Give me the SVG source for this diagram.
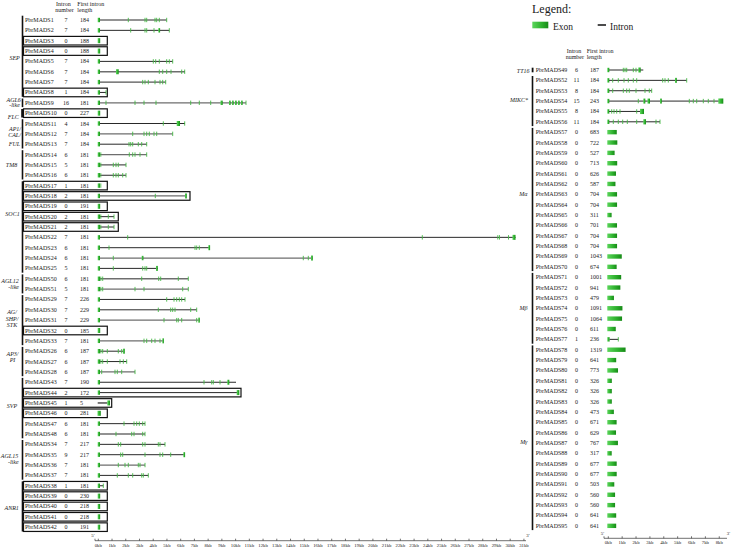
<svg xmlns="http://www.w3.org/2000/svg" width="748" height="548" viewBox="0 0 748 548">
<defs>
<linearGradient id="gx" x1="0" y1="0" x2="1" y2="0">
<stop offset="0" stop-color="#5cd65c"/>
<stop offset="0.6" stop-color="#2db02d"/>
<stop offset="1" stop-color="#178a17"/>
</linearGradient>
<style>
text{font-family:"Liberation Serif","Times New Roman",serif;font-size:6px;fill:#1a1a1a}
.m{text-anchor:middle}
.e{text-anchor:end}
.f{font-style:italic}
.ax{font-size:4.8px;text-anchor:middle}
.in{stroke:#111;stroke-width:0.9;fill:none}
.ig{stroke:#6e6e6e;stroke-width:1.3;fill:none}
.tk{stroke:#45b845;stroke-width:0.9;fill:none}
.ex{fill:url(#gx)}
.bx{fill:none;stroke:#111;stroke-width:1.2}
.br{fill:#111}
.al{stroke:#333;stroke-width:0.7;fill:none}
</style>
</defs>
<rect width="748" height="548" fill="#fff"/>

<g id="legend">
<text x="532" y="12.5" style="font-size:12px">Legend:</text>
<rect class="ex" x="532.3" y="21.7" width="16" height="6.6"/>
<text x="553" y="29.5" style="font-size:9.5px">Exon</text>
<line x1="597.7" y1="25" x2="606" y2="25" stroke="#111" stroke-width="1.5"/>
<text x="610" y="29.5" style="font-size:9.5px">Intron</text>
</g>

<g id="headers">
<text x="56" y="5.8">Intron</text><text x="55.3" y="12">number</text>
<text x="77.3" y="5.8">First intron</text><text x="77.3" y="12">length</text>
<text x="566.7" y="52.8">Intron</text><text x="565.7" y="58.8">number</text>
<text x="586.7" y="52.8">First intron</text><text x="586.7" y="58.8">length</text>
</g>

<g id="families">
<rect class="br" x="21.7" y="15.7" width="1.6" height="81.1"/>
<rect class="br" x="21.7" y="98.5" width="1.6" height="8.6"/>
<rect class="br" x="21.2" y="109" width="2.2" height="8.5"/>
<rect class="br" x="21.7" y="119.2" width="1.6" height="29.3"/>
<rect class="br" x="21.7" y="150.2" width="1.6" height="29.3"/>
<rect class="br" x="21.7" y="181.3" width="1.6" height="91.4"/>
<rect class="br" x="21.7" y="274.4" width="1.6" height="19"/>
<rect class="br" x="21.7" y="295.1" width="1.6" height="50.1"/>
<rect class="br" x="21.7" y="346.9" width="1.6" height="29.3"/>
<rect class="br" x="21.7" y="377.9" width="1.6" height="60.4"/>
<rect class="br" x="21.7" y="440" width="1.6" height="39.7"/>
<rect class="br" x="21.7" y="481.4" width="1.6" height="50.1"/>
<text class="f m" x="14.6" y="60">SEP</text>
<text class="f m" x="13.7" y="101.6">AGL6</text><text class="f m" x="14.5" y="107">-like</text>
<text class="f m" x="13.3" y="118.6">FLC</text>
<text class="f m" x="15" y="130.7">AP1/</text><text class="f m" x="14.5" y="137.2">CAL/</text><text class="f m" x="14.5" y="145.6">FUL</text>
<text class="f m" x="11.5" y="166.6">TM8</text>
<text class="f m" x="12.5" y="215.7">SOC1</text>
<text class="f m" x="10" y="283.3">AGL12</text><text class="f m" x="13.7" y="289.2">-like</text>
<text class="f m" x="12" y="314">AG/</text><text class="f m" x="12" y="320.7">SHP/</text><text class="f m" x="12" y="327.3">STK</text>
<text class="f m" x="12.5" y="356.3">AP3/</text><text class="f m" x="12.5" y="362.4">PI</text>
<text class="f m" x="12" y="408">SVP</text>
<text class="f m" x="9.5" y="458.3">AGL15</text><text class="f m" x="13.3" y="464">-like</text>
<text class="f m" x="11.7" y="510">ANR1</text>
<rect class="br" x="531.7" y="67.7" width="1.8" height="4.6"/>
<rect class="br" x="531.7" y="76" width="1.6" height="50.1"/>
<rect class="br" x="531.7" y="127.9" width="1.6" height="143.2"/>
<rect class="br" x="531.7" y="272.9" width="1.6" height="70.8"/>
<rect class="br" x="531.7" y="345.4" width="1.6" height="184.7"/>
<text class="f e" x="529.5" y="72.8">TT16</text>
<text class="f e" x="528" y="101.5">MIKC*</text>
<text class="f e" x="527.5" y="196">Mα</text>
<text class="f e" x="527.5" y="310">Mβ</text>
<text class="f e" x="527.5" y="444">Mγ</text>
</g>

<g id="genes-left">
<g id="PbrMADS1" transform="translate(0,20)"><text x="25" y="2">PbrMADS1</text><text class="m" x="66" y="2">7</text><text x="80" y="2">184</text>
<path class="in" d="M100 0H166.7"/><rect class="ex" x="97.7" y="-2.2" width="2.3" height="4.4"/>
<path class="tk" d="M128.3-2.2v4.4M145-2.2v4.4M146.7-2.2v4.4M155-2.2v4.4M156.7-2.2v4.4M159.3-2.2v4.4M166.7-2.2v4.4"/></g>
<g id="PbrMADS2" transform="translate(0,30.35)"><text x="25" y="2">PbrMADS2</text><text class="m" x="66" y="2">7</text><text x="80" y="2">184</text>
<path class="in" d="M100 0H169.3"/><rect class="ex" x="97.7" y="-2.2" width="2.3" height="4.4"/>
<path class="tk" d="M130.7-2.2v4.4M145-2.2v4.4M146.7-2.2v4.4M154-2.2v4.4M169.3-2.2v4.4"/><rect class="ex" x="158.3" y="-2.2" width="1.8" height="4.4"/></g>
<g id="PbrMADS3" transform="translate(0,40.7)"><rect class="bx" x="23.5" y="-4.3" width="83.8" height="8.6"/><text x="25" y="2">PbrMADS3</text><text class="m" x="66" y="2">0</text><text x="80" y="2">188</text>
<rect class="ex" x="97.7" y="-2.5" width="2.5" height="5"/></g>
<g id="PbrMADS4" transform="translate(0,51.05)"><rect class="bx" x="23.5" y="-4.3" width="83.8" height="8.6"/><text x="25" y="2">PbrMADS4</text><text class="m" x="66" y="2">0</text><text x="80" y="2">188</text>
<rect class="ex" x="97.7" y="-2.5" width="2.5" height="5"/></g>
<g id="PbrMADS5" transform="translate(0,61.4)"><text x="25" y="2">PbrMADS5</text><text class="m" x="66" y="2">7</text><text x="80" y="2">184</text>
<path class="in" d="M100 0H172.7"/><rect class="ex" x="97.7" y="-2.2" width="2.3" height="4.4"/>
<path class="tk" d="M153.3-2.2v4.4M155.7-2.2v4.4M159.3-2.2v4.4M166.7-2.2v4.4M169.3-2.2v4.4M172.7-2.2v4.4"/></g>
<g id="PbrMADS6" transform="translate(0,71.75)"><text x="25" y="2">PbrMADS6</text><text class="m" x="66" y="2">7</text><text x="80" y="2">184</text>
<path class="ig" d="M100 0H185"/><rect class="ex" x="97.7" y="-2.2" width="2.3" height="4.4"/><rect class="ex" x="116" y="-2.5" width="2.7" height="5"/>
<path class="tk" d="M159.3-2.2v4.4M162.7-2.2v4.4M166.7-2.2v4.4M171-2.2v4.4M181.7-2.2v4.4M184.7-2.2v4.4"/></g>
<g id="PbrMADS7" transform="translate(0,82.1)"><text x="25" y="2">PbrMADS7</text><text class="m" x="66" y="2">7</text><text x="80" y="2">184</text>
<path class="in" d="M100 0H165.7"/><rect class="ex" x="97.7" y="-2.2" width="2.3" height="4.4"/>
<path class="tk" d="M142.7-2.2v4.4M145-2.2v4.4M148.3-2.2v4.4M155-2.2v4.4M160-2.2v4.4M162.7-2.2v4.4M165.7-2.2v4.4"/></g>
<g id="PbrMADS8" transform="translate(0,92.45)"><rect class="bx" x="23.5" y="-4.3" width="83.8" height="8.6"/><text x="25" y="2">PbrMADS8</text><text class="m" x="66" y="2">1</text><text x="80" y="2">184</text>
<path class="in" d="M100 0H106"/><rect class="ex" x="97.7" y="-2.2" width="2.3" height="4.4"/><path class="tk" d="M106-2.2v4.4"/></g>
<g id="PbrMADS9" transform="translate(0,102.8)"><text x="25" y="2">PbrMADS9</text><text class="m" x="66" y="2">16</text><text x="80" y="2">181</text>
<path class="ig" d="M100 0H246"/><rect class="ex" x="97.7" y="-2.2" width="2.3" height="4.4"/>
<path class="tk" d="M106-2.2v4.4M135-2.2v4.4M144-2.2v4.4M156-2.2v4.4M190.7-2.2v4.4M199.3-2.2v4.4M210.7-2.2v4.4M246-2.2v4.4"/>
<rect class="ex" x="220.5" y="-2.2" width="2.2" height="4.4"/><rect class="ex" x="229" y="-2.2" width="1.6" height="4.4"/><rect class="ex" x="232" y="-2.2" width="1.6" height="4.4"/><rect class="ex" x="235" y="-2.2" width="1.6" height="4.4"/><rect class="ex" x="238" y="-2.2" width="1.6" height="4.4"/><rect class="ex" x="241" y="-2.2" width="1.6" height="4.4"/></g>
<g id="PbrMADS10" transform="translate(0,113.15)"><rect class="bx" x="23.5" y="-4.3" width="83.8" height="8.6"/><text x="25" y="2">PbrMADS10</text><text class="m" x="66" y="2">0</text><text x="80" y="2">227</text>
<rect class="ex" x="97.7" y="-2.5" width="2.5" height="5"/></g>
<g id="PbrMADS11" transform="translate(0,123.5)"><text x="25" y="2">PbrMADS11</text><text class="m" x="66" y="2">4</text><text x="80" y="2">184</text>
<path class="in" d="M100 0H185"/><rect class="ex" x="97.7" y="-2.2" width="2.3" height="4.4"/>
<path class="tk" d="M163.3-2.2v4.4M184.7-2.2v4.4"/><rect class="ex" x="176.7" y="-2.5" width="3.3" height="5"/></g>
<g id="PbrMADS12" transform="translate(0,133.85)"><text x="25" y="2">PbrMADS12</text><text class="m" x="66" y="2">7</text><text x="80" y="2">184</text>
<path class="ig" d="M100 0H172.7"/><rect class="ex" x="97.7" y="-2.2" width="2.3" height="4.4"/>
<path class="tk" d="M132.7-2.2v4.4M144-2.2v4.4M146.7-2.2v4.4M149.3-2.2v4.4M154-2.2v4.4M156.7-2.2v4.4M172.7-2.2v4.4"/></g>
<g id="PbrMADS13" transform="translate(0,144.2)"><text x="25" y="2">PbrMADS13</text><text class="m" x="66" y="2">7</text><text x="80" y="2">184</text>
<path class="in" d="M100 0H146.7"/><rect class="ex" x="97.7" y="-2.2" width="2.3" height="4.4"/>
<path class="tk" d="M129-2.2v4.4M130.7-2.2v4.4M132.7-2.2v4.4M138.3-2.2v4.4M141.7-2.2v4.4M146.7-2.2v4.4"/></g>
<g id="PbrMADS14" transform="translate(0,154.55)"><text x="25" y="2">PbrMADS14</text><text class="m" x="66" y="2">6</text><text x="80" y="2">181</text>
<path class="ig" d="M100 0H146.7"/><rect class="ex" x="97.7" y="-2.2" width="2.3" height="4.4"/>
<path class="tk" d="M100.8-2.2v4.4M129.3-2.2v4.4M132.7-2.2v4.4M135-2.2v4.4M140-2.2v4.4M146.7-2.2v4.4"/></g>
<g id="PbrMADS15" transform="translate(0,164.9)"><text x="25" y="2">PbrMADS15</text><text class="m" x="66" y="2">5</text><text x="80" y="2">181</text>
<path class="in" d="M100 0H126"/><rect class="ex" x="97.7" y="-2.2" width="2.3" height="4.4"/>
<path class="tk" d="M100.8-2.2v4.4M113.3-2.2v4.4M116-2.2v4.4M118.3-2.2v4.4M126-2.2v4.4"/></g>
<g id="PbrMADS16" transform="translate(0,175.25)"><text x="25" y="2">PbrMADS16</text><text class="m" x="66" y="2">6</text><text x="80" y="2">181</text>
<path class="in" d="M100 0H126"/><rect class="ex" x="97.7" y="-2.2" width="2.3" height="4.4"/>
<path class="tk" d="M100.8-2.2v4.4M113.3-2.2v4.4M116-2.2v4.4M118.3-2.2v4.4M122.7-2.2v4.4M126-2.2v4.4"/></g>
<g id="PbrMADS17" transform="translate(0,185.6)"><rect class="bx" x="23.5" y="-4.3" width="83.8" height="8.6"/><text x="25" y="2">PbrMADS17</text><text class="m" x="66" y="2">1</text><text x="80" y="2">181</text>
<rect class="ex" x="97.7" y="-2.2" width="2.3" height="4.4"/><path class="tk" d="M100.8-2.2v4.4"/></g>
<g id="PbrMADS18" transform="translate(0,195.95)"><rect class="bx" x="23.5" y="-4.3" width="166.5" height="8.6"/><text x="25" y="2">PbrMADS18</text><text class="m" x="66" y="2">2</text><text x="80" y="2">181</text>
<path class="ig" d="M100 0H185"/><rect class="ex" x="97.7" y="-2.2" width="2.3" height="4.4"/>
<path class="tk" d="M155.3-2.2v4.4"/><rect class="ex" x="185" y="-2.5" width="1.8" height="5"/></g>
<g id="PbrMADS19" transform="translate(0,206.3)"><rect class="bx" x="23.5" y="-4.3" width="83.8" height="8.6"/><text x="25" y="2">PbrMADS19</text><text class="m" x="66" y="2">0</text><text x="80" y="2">191</text>
<rect class="ex" x="97.7" y="-2.5" width="2.5" height="5"/></g>
<g id="PbrMADS20" transform="translate(0,216.65)"><rect class="bx" x="23.5" y="-4.3" width="94.8" height="8.6"/><text x="25" y="2">PbrMADS20</text><text class="m" x="66" y="2">2</text><text x="80" y="2">181</text>
<path class="in" d="M100 0H114"/><rect class="ex" x="97.7" y="-2.2" width="2.3" height="4.4"/>
<path class="tk" d="M100.8-2.2v4.4M108.3-2.2v4.4M114-2.2v4.4"/></g>
<g id="PbrMADS21" transform="translate(0,227)"><rect class="bx" x="23.5" y="-4.3" width="94.8" height="8.6"/><text x="25" y="2">PbrMADS21</text><text class="m" x="66" y="2">2</text><text x="80" y="2">181</text>
<path class="in" d="M100 0H114"/><rect class="ex" x="97.7" y="-2.2" width="2.3" height="4.4"/>
<path class="tk" d="M100.8-2.2v4.4M108.3-2.2v4.4M114-2.2v4.4"/></g>
<g id="PbrMADS22" transform="translate(0,237.35)"><text x="25" y="2">PbrMADS22</text><text class="m" x="66" y="2">7</text><text x="80" y="2">181</text>
<path class="in" d="M100 0H515.5"/><rect class="ex" x="97.7" y="-2.2" width="2.3" height="4.4"/>
<path class="tk" d="M127.7-2.2v4.4M422.3-2.2v4.4M497.8-2.2v4.4M499.5-2.2v4.4M508.5-2.2v4.4"/><rect class="ex" x="512.5" y="-2.5" width="3" height="5"/></g>
<g id="PbrMADS23" transform="translate(0,247.7)"><text x="25" y="2">PbrMADS23</text><text class="m" x="66" y="2">6</text><text x="80" y="2">181</text>
<path class="in" d="M100 0H210"/><rect class="ex" x="97.7" y="-2.2" width="2.3" height="4.4"/>
<path class="tk" d="M109-2.2v4.4M195-2.2v4.4M196.7-2.2v4.4M199.3-2.2v4.4"/><rect class="ex" x="208.3" y="-2.5" width="1.8" height="5"/></g>
<g id="PbrMADS24" transform="translate(0,258.05)"><text x="25" y="2">PbrMADS24</text><text class="m" x="66" y="2">6</text><text x="80" y="2">181</text>
<path class="ig" d="M100 0H312.5"/><rect class="ex" x="97.7" y="-2.2" width="2.3" height="4.4"/>
<path class="tk" d="M113.3-2.2v4.4M303.3-2.2v4.4M308.3-2.2v4.4"/><rect class="ex" x="141.7" y="-2.2" width="1.7" height="4.4"/><rect class="ex" x="311" y="-2.5" width="1.8" height="5"/></g>
<g id="PbrMADS25" transform="translate(0,268.4)"><text x="25" y="2">PbrMADS25</text><text class="m" x="66" y="2">5</text><text x="80" y="2">181</text>
<path class="in" d="M100 0H157.7"/><rect class="ex" x="97.7" y="-2.2" width="2.3" height="4.4"/>
<path class="tk" d="M113.3-2.2v4.4M142.7-2.2v4.4M145-2.2v4.4M146.7-2.2v4.4"/><rect class="ex" x="156" y="-2.5" width="1.8" height="5"/></g>
<g id="PbrMADS50" transform="translate(0,278.75)"><text x="25" y="2">PbrMADS50</text><text class="m" x="66" y="2">6</text><text x="80" y="2">181</text>
<path class="ig" d="M100 0H188.3"/><rect class="ex" x="97.7" y="-2.2" width="2.3" height="4.4"/>
<path class="tk" d="M100.8-2.2v4.4M102.7-2.2v4.4M141.7-2.2v4.4M158.7-2.2v4.4M160.7-2.2v4.4M178.3-2.2v4.4M188.3-2.2v4.4"/></g>
<g id="PbrMADS51" transform="translate(0,289.1)"><text x="25" y="2">PbrMADS51</text><text class="m" x="66" y="2">5</text><text x="80" y="2">181</text>
<path class="ig" d="M100 0H188.3"/><rect class="ex" x="97.7" y="-2.2" width="2.3" height="4.4"/>
<path class="tk" d="M100.8-2.2v4.4M102.7-2.2v4.4M135-2.2v4.4M144-2.2v4.4M182.7-2.2v4.4M188.3-2.2v4.4"/></g>
<g id="PbrMADS29" transform="translate(0,299.45)"><text x="25" y="2">PbrMADS29</text><text class="m" x="66" y="2">7</text><text x="80" y="2">226</text>
<path class="in" d="M100 0H185"/><rect class="ex" x="97.7" y="-2.2" width="2.3" height="4.4"/>
<path class="tk" d="M166.7-2.2v4.4M174-2.2v4.4M176.7-2.2v4.4M179.3-2.2v4.4M181.7-2.2v4.4M185-2.2v4.4"/></g>
<g id="PbrMADS30" transform="translate(0,309.8)"><text x="25" y="2">PbrMADS30</text><text class="m" x="66" y="2">7</text><text x="80" y="2">229</text>
<path class="in" d="M100 0H196.7"/><rect class="ex" x="97.7" y="-2.2" width="2.3" height="4.4"/>
<path class="tk" d="M158.3-2.2v4.4M170.7-2.2v4.4M172.7-2.2v4.4M175-2.2v4.4M190.7-2.2v4.4M196.7-2.2v4.4"/></g>
<g id="PbrMADS31" transform="translate(0,320.15)"><text x="25" y="2">PbrMADS31</text><text class="m" x="66" y="2">7</text><text x="80" y="2">229</text>
<path class="ig" d="M100 0H199.3"/><rect class="ex" x="97.7" y="-2.2" width="2.3" height="4.4"/>
<path class="tk" d="M164-2.2v4.4M176.7-2.2v4.4M178.3-2.2v4.4M181.7-2.2v4.4M196.7-2.2v4.4"/><rect class="ex" x="198.2" y="-2.5" width="1.6" height="5"/></g>
<g id="PbrMADS32" transform="translate(0,330.5)"><rect class="bx" x="23.5" y="-4.3" width="83.8" height="8.6"/><text x="25" y="2">PbrMADS32</text><text class="m" x="66" y="2">0</text><text x="80" y="2">185</text>
<rect class="ex" x="97.7" y="-2.5" width="2.5" height="5"/></g>
<g id="PbrMADS33" transform="translate(0,340.85)"><text x="25" y="2">PbrMADS33</text><text class="m" x="66" y="2">7</text><text x="80" y="2">181</text>
<path class="ig" d="M100 0H163.3"/><rect class="ex" x="97.7" y="-2.2" width="2.3" height="4.4"/>
<path class="tk" d="M144-2.2v4.4M146.7-2.2v4.4M151.7-2.2v4.4M155-2.2v4.4M160-2.2v4.4"/><rect class="ex" x="162.3" y="-2.5" width="1.6" height="5"/></g>
<g id="PbrMADS26" transform="translate(0,351.2)"><text x="25" y="2">PbrMADS26</text><text class="m" x="66" y="2">6</text><text x="80" y="2">187</text>
<path class="in" d="M100 0H124"/><rect class="ex" x="97.7" y="-2.2" width="2.3" height="4.4"/>
<path class="tk" d="M100.8-2.2v4.4M102.7-2.2v4.4M107.3-2.2v4.4M118.3-2.2v4.4M121.7-2.2v4.4"/><rect class="ex" x="123" y="-2.5" width="1.8" height="5"/></g>
<g id="PbrMADS27" transform="translate(0,361.55)"><text x="25" y="2">PbrMADS27</text><text class="m" x="66" y="2">6</text><text x="80" y="2">187</text>
<path class="in" d="M100 0H126.7"/><rect class="ex" x="97.7" y="-2.2" width="2.3" height="4.4"/>
<path class="tk" d="M100.8-2.2v4.4M102.7-2.2v4.4M107.3-2.2v4.4M120-2.2v4.4M123.3-2.2v4.4M126.7-2.2v4.4"/></g>
<g id="PbrMADS28" transform="translate(0,371.9)"><text x="25" y="2">PbrMADS28</text><text class="m" x="66" y="2">6</text><text x="80" y="2">187</text>
<path class="ig" d="M100 0H135"/><rect class="ex" x="97.7" y="-2.2" width="2.3" height="4.4"/>
<path class="tk" d="M101.7-2.2v4.4M115-2.2v4.4M117.3-2.2v4.4M121.7-2.2v4.4M135-2.2v4.4"/></g>
<g id="PbrMADS43" transform="translate(0,382.25)"><text x="25" y="2">PbrMADS43</text><text class="m" x="66" y="2">7</text><text x="80" y="2">190</text>
<path class="in" d="M100 0H236"/><rect class="ex" x="97.7" y="-2.2" width="2.3" height="4.4"/>
<path class="tk" d="M204-2.2v4.4M211.7-2.2v4.4M213.3-2.2v4.4M220-2.2v4.4"/><rect class="ex" x="227.3" y="-2.5" width="2" height="5"/></g>
<g id="PbrMADS44" transform="translate(0,392.6)"><rect class="bx" x="23.5" y="-4.3" width="217.5" height="8.6"/><text x="25" y="2">PbrMADS44</text><text class="m" x="66" y="2">2</text><text x="80" y="2">172</text>
<path class="in" d="M100 0H237"/><rect class="ex" x="97.7" y="-2.2" width="2.3" height="4.4"/><rect class="ex" x="236.7" y="-2.5" width="2.6" height="5"/></g>
<g id="PbrMADS45" transform="translate(0,402.95)"><rect class="bx" x="23.5" y="-4.3" width="88.2" height="8.6"/><text x="25" y="2">PbrMADS45</text><text class="m" x="66" y="2">1</text><text x="80" y="2">5</text>
<path class="ig" d="M97.7 0H107.5" style="stroke-width:1.8"/><rect class="ex" x="107.3" y="-2.5" width="2.7" height="5"/></g>
<g id="PbrMADS46" transform="translate(0,413.3)"><rect class="bx" x="23.5" y="-4.3" width="83.8" height="8.6"/><text x="25" y="2">PbrMADS46</text><text class="m" x="66" y="2">0</text><text x="80" y="2">281</text>
<rect class="ex" x="97.5" y="-2.5" width="3.3" height="5"/></g>
<g id="PbrMADS47" transform="translate(0,423.65)"><text x="25" y="2">PbrMADS47</text><text class="m" x="66" y="2">6</text><text x="80" y="2">181</text>
<path class="in" d="M100 0H145"/><rect class="ex" x="97.7" y="-2.2" width="2.3" height="4.4"/>
<path class="tk" d="M124-2.2v4.4M134-2.2v4.4M136.7-2.2v4.4M139.3-2.2v4.4M142.7-2.2v4.4M145-2.2v4.4"/></g>
<g id="PbrMADS48" transform="translate(0,434)"><text x="25" y="2">PbrMADS48</text><text class="m" x="66" y="2">6</text><text x="80" y="2">181</text>
<path class="ig" d="M100 0H145"/><rect class="ex" x="97.7" y="-2.2" width="2.3" height="4.4"/>
<path class="tk" d="M116-2.2v4.4M131.7-2.2v4.4M134-2.2v4.4M142.7-2.2v4.4M145-2.2v4.4"/></g>
<g id="PbrMADS34" transform="translate(0,444.35)"><text x="25" y="2">PbrMADS34</text><text class="m" x="66" y="2">7</text><text x="80" y="2">217</text>
<path class="in" d="M100 0H165"/><rect class="ex" x="97.7" y="-2.2" width="2.3" height="4.4"/>
<path class="tk" d="M118.3-2.2v4.4M120.7-2.2v4.4M142.7-2.2v4.4M145-2.2v4.4M158.3-2.2v4.4M160-2.2v4.4M165-2.2v4.4"/></g>
<g id="PbrMADS35" transform="translate(0,454.7)"><text x="25" y="2">PbrMADS35</text><text class="m" x="66" y="2">9</text><text x="80" y="2">217</text>
<path class="in" d="M100 0H185"/><rect class="ex" x="97.7" y="-2.2" width="2.3" height="4.4"/>
<path class="tk" d="M120.7-2.2v4.4M122.7-2.2v4.4M145-2.2v4.4M160-2.2v4.4M162.7-2.2v4.4M170.7-2.2v4.4"/><rect class="ex" x="183.3" y="-2.5" width="1.8" height="5"/></g>
<g id="PbrMADS36" transform="translate(0,465.05)"><text x="25" y="2">PbrMADS36</text><text class="m" x="66" y="2">7</text><text x="80" y="2">181</text>
<path class="ig" d="M100 0H145"/><rect class="ex" x="97.7" y="-2.2" width="2.3" height="4.4"/>
<path class="tk" d="M118.3-2.2v4.4M125-2.2v4.4M128.3-2.2v4.4M138.3-2.2v4.4M140-2.2v4.4M145-2.2v4.4"/></g>
<g id="PbrMADS37" transform="translate(0,475.4)"><text x="25" y="2">PbrMADS37</text><text class="m" x="66" y="2">7</text><text x="80" y="2">181</text>
<path class="in" d="M100 0H148.3"/><rect class="ex" x="97.7" y="-2.2" width="2.3" height="4.4"/>
<path class="tk" d="M117.3-2.2v4.4M128.3-2.2v4.4M132.7-2.2v4.4M141.7-2.2v4.4M143.3-2.2v4.4M148.3-2.2v4.4"/></g>
<g id="PbrMADS38" transform="translate(0,485.75)"><rect class="bx" x="23.5" y="-4.3" width="83.8" height="8.6"/><text x="25" y="2">PbrMADS38</text><text class="m" x="66" y="2">1</text><text x="80" y="2">181</text>
<path class="in" d="M100 0H103.3"/><rect class="ex" x="97.7" y="-2.2" width="2.3" height="4.4"/><path class="tk" d="M103.3-2.2v4.4"/></g>
<g id="PbrMADS39" transform="translate(0,496.1)"><rect class="bx" x="23.5" y="-4.3" width="83.8" height="8.6"/><text x="25" y="2">PbrMADS39</text><text class="m" x="66" y="2">0</text><text x="80" y="2">230</text>
<rect class="ex" x="97.7" y="-2.5" width="2.5" height="5"/></g>
<g id="PbrMADS40" transform="translate(0,506.45)"><rect class="bx" x="23.5" y="-4.3" width="83.8" height="8.6"/><text x="25" y="2">PbrMADS40</text><text class="m" x="66" y="2">0</text><text x="80" y="2">218</text>
<rect class="ex" x="97.7" y="-2.5" width="2.5" height="5"/></g>
<g id="PbrMADS41" transform="translate(0,516.8)"><rect class="bx" x="23.5" y="-4.3" width="83.8" height="8.6"/><text x="25" y="2">PbrMADS41</text><text class="m" x="66" y="2">0</text><text x="80" y="2">218</text>
<rect class="ex" x="97.7" y="-2.5" width="2.5" height="5"/></g>
<g id="PbrMADS42" transform="translate(0,527.15)"><rect class="bx" x="23.5" y="-4.3" width="83.8" height="8.6"/><text x="25" y="2">PbrMADS42</text><text class="m" x="66" y="2">0</text><text x="80" y="2">191</text>
<rect class="ex" x="97.7" y="-2.5" width="2.5" height="5"/></g>
</g>

<g id="genes-right">
<g id="PbrMADS49" transform="translate(0,70)"><text x="535.7" y="2">PbrMADS49</text><text class="m" x="576.5" y="2">6</text><text x="590" y="2">187</text>
<path class="in" d="M609 0H643.3"/><rect class="ex" x="607.3" y="-2.2" width="2" height="4.4"/>
<path class="tk" d="M623.3-2.2v4.4M625-2.2v4.4M626.7-2.2v4.4M633.3-2.2v4.4M636-2.2v4.4"/><rect class="ex" x="638.3" y="-2.5" width="2.4" height="5"/></g>
<g id="PbrMADS52" transform="translate(0,80.36)"><text x="535.7" y="2">PbrMADS52</text><text class="m" x="576.5" y="2">11</text><text x="590" y="2">184</text>
<path class="in" d="M609 0H686.7"/><rect class="ex" x="607.3" y="-2.2" width="2" height="4.4"/>
<path class="tk" d="M612.7-2.2v4.4M618.3-2.2v4.4M624-2.2v4.4M628.3-2.2v4.4M633.3-2.2v4.4M636.7-2.2v4.4M662.7-2.2v4.4M665-2.2v4.4M668.3-2.2v4.4M686.7-2.2v4.4"/><rect class="ex" x="675" y="-2.5" width="1.8" height="5"/></g>
<g id="PbrMADS53" transform="translate(0,90.72)"><text x="535.7" y="2">PbrMADS53</text><text class="m" x="576.5" y="2">8</text><text x="590" y="2">184</text>
<path class="in" d="M609 0H651.7"/><rect class="ex" x="607.3" y="-2.2" width="2" height="4.4"/>
<path class="tk" d="M612.7-2.2v4.4M623.3-2.2v4.4M626.7-2.2v4.4M629.3-2.2v4.4M636-2.2v4.4M645-2.2v4.4M649.3-2.2v4.4M651.7-2.2v4.4"/></g>
<g id="PbrMADS54" transform="translate(0,101.08)"><text x="535.7" y="2">PbrMADS54</text><text class="m" x="576.5" y="2">15</text><text x="590" y="2">243</text>
<path class="in" d="M609 0H720"/><rect class="ex" x="607.3" y="-2.2" width="2" height="4.4"/>
<path class="tk" d="M638.3-2.2v4.4M689.3-2.2v4.4M693.3-2.2v4.4M696.7-2.2v4.4M703.3-2.2v4.4M708.3-2.2v4.4M714-2.2v4.4"/>
<rect class="ex" x="643.3" y="-2.5" width="2" height="5"/><rect class="ex" x="647.5" y="-2.5" width="2.5" height="5"/><rect class="ex" x="660" y="-2.5" width="1.8" height="5"/><rect class="ex" x="718.3" y="-2.6" width="5" height="5.2"/></g>
<g id="PbrMADS55" transform="translate(0,111.44)"><text x="535.7" y="2">PbrMADS55</text><text class="m" x="576.5" y="2">8</text><text x="590" y="2">184</text>
<path class="in" d="M609 0H641"/><rect class="ex" x="607.3" y="-2.2" width="2" height="4.4"/>
<path class="tk" d="M611.7-2.2v4.4M614-2.2v4.4M616.7-2.2v4.4M620-2.2v4.4M636.7-2.2v4.4"/><rect class="ex" x="640" y="-2.6" width="4" height="5.2"/></g>
<g id="PbrMADS56" transform="translate(0,121.8)"><text x="535.7" y="2">PbrMADS56</text><text class="m" x="576.5" y="2">11</text><text x="590" y="2">184</text>
<path class="in" d="M609 0H660"/><rect class="ex" x="607.3" y="-2.2" width="2" height="4.4"/>
<path class="tk" d="M613.3-2.2v4.4M618.3-2.2v4.4M622.7-2.2v4.4M627.3-2.2v4.4M636.7-2.2v4.4M656-2.2v4.4M660-2.2v4.4"/><rect class="ex" x="643.3" y="-2.6" width="2.7" height="5.2"/></g>
<g id="PbrMADS57" transform="translate(0,132.16)"><text x="535.7" y="2">PbrMADS57</text><text class="m" x="576.5" y="2">0</text><text x="590" y="2">683</text><rect class="ex" x="607.3" y="-2.2" width="9.47" height="4.4"/></g>
<g id="PbrMADS58" transform="translate(0,142.52)"><text x="535.7" y="2">PbrMADS58</text><text class="m" x="576.5" y="2">0</text><text x="590" y="2">722</text><rect class="ex" x="607.3" y="-2.2" width="10.01" height="4.4"/></g>
<g id="PbrMADS59" transform="translate(0,152.88)"><text x="535.7" y="2">PbrMADS59</text><text class="m" x="576.5" y="2">0</text><text x="590" y="2">527</text><rect class="ex" x="607.3" y="-2.2" width="7.31" height="4.4"/></g>
<g id="PbrMADS60" transform="translate(0,163.24)"><text x="535.7" y="2">PbrMADS60</text><text class="m" x="576.5" y="2">0</text><text x="590" y="2">713</text><rect class="ex" x="607.3" y="-2.2" width="9.89" height="4.4"/></g>
<g id="PbrMADS61" transform="translate(0,173.6)"><text x="535.7" y="2">PbrMADS61</text><text class="m" x="576.5" y="2">0</text><text x="590" y="2">626</text><rect class="ex" x="607.3" y="-2.2" width="8.68" height="4.4"/></g>
<g id="PbrMADS62" transform="translate(0,183.96)"><text x="535.7" y="2">PbrMADS62</text><text class="m" x="576.5" y="2">0</text><text x="590" y="2">587</text><rect class="ex" x="607.3" y="-2.2" width="8.14" height="4.4"/></g>
<g id="PbrMADS63" transform="translate(0,194.32)"><text x="535.7" y="2">PbrMADS63</text><text class="m" x="576.5" y="2">0</text><text x="590" y="2">704</text><rect class="ex" x="607.3" y="-2.2" width="9.76" height="4.4"/></g>
<g id="PbrMADS64" transform="translate(0,204.68)"><text x="535.7" y="2">PbrMADS64</text><text class="m" x="576.5" y="2">0</text><text x="590" y="2">704</text><rect class="ex" x="607.3" y="-2.2" width="9.76" height="4.4"/></g>
<g id="PbrMADS65" transform="translate(0,215.04)"><text x="535.7" y="2">PbrMADS65</text><text class="m" x="576.5" y="2">0</text><text x="590" y="2">311</text><rect class="ex" x="607.3" y="-2.2" width="4.31" height="4.4"/></g>
<g id="PbrMADS66" transform="translate(0,225.4)"><text x="535.7" y="2">PbrMADS66</text><text class="m" x="576.5" y="2">0</text><text x="590" y="2">701</text><rect class="ex" x="607.3" y="-2.2" width="9.72" height="4.4"/></g>
<g id="PbrMADS67" transform="translate(0,235.76)"><text x="535.7" y="2">PbrMADS67</text><text class="m" x="576.5" y="2">0</text><text x="590" y="2">704</text><rect class="ex" x="607.3" y="-2.2" width="9.76" height="4.4"/></g>
<g id="PbrMADS68" transform="translate(0,246.12)"><text x="535.7" y="2">PbrMADS68</text><text class="m" x="576.5" y="2">0</text><text x="590" y="2">704</text><rect class="ex" x="607.3" y="-2.2" width="9.76" height="4.4"/></g>
<g id="PbrMADS69" transform="translate(0,256.48)"><text x="535.7" y="2">PbrMADS69</text><text class="m" x="576.5" y="2">0</text><text x="590" y="2">1043</text><rect class="ex" x="607.3" y="-2.2" width="14.47" height="4.4"/></g>
<g id="PbrMADS70" transform="translate(0,266.84)"><text x="535.7" y="2">PbrMADS70</text><text class="m" x="576.5" y="2">0</text><text x="590" y="2">674</text><rect class="ex" x="607.3" y="-2.2" width="9.35" height="4.4"/></g>
<g id="PbrMADS71" transform="translate(0,277.2)"><text x="535.7" y="2">PbrMADS71</text><text class="m" x="576.5" y="2">0</text><text x="590" y="2">1001</text><rect class="ex" x="607.3" y="-2.2" width="13.88" height="4.4"/></g>
<g id="PbrMADS72" transform="translate(0,287.56)"><text x="535.7" y="2">PbrMADS72</text><text class="m" x="576.5" y="2">0</text><text x="590" y="2">941</text><rect class="ex" x="607.3" y="-2.2" width="13.05" height="4.4"/></g>
<g id="PbrMADS73" transform="translate(0,297.92)"><text x="535.7" y="2">PbrMADS73</text><text class="m" x="576.5" y="2">0</text><text x="590" y="2">479</text><rect class="ex" x="607.3" y="-2.2" width="6.64" height="4.4"/></g>
<g id="PbrMADS74" transform="translate(0,308.28)"><text x="535.7" y="2">PbrMADS74</text><text class="m" x="576.5" y="2">0</text><text x="590" y="2">1091</text><rect class="ex" x="607.3" y="-2.2" width="15.13" height="4.4"/></g>
<g id="PbrMADS75" transform="translate(0,318.64)"><text x="535.7" y="2">PbrMADS75</text><text class="m" x="576.5" y="2">0</text><text x="590" y="2">1064</text><rect class="ex" x="607.3" y="-2.2" width="14.76" height="4.4"/></g>
<g id="PbrMADS76" transform="translate(0,329)"><text x="535.7" y="2">PbrMADS76</text><text class="m" x="576.5" y="2">0</text><text x="590" y="2">611</text><rect class="ex" x="607.3" y="-2.2" width="8.47" height="4.4"/></g>
<g id="PbrMADS77" transform="translate(0,339.36)"><text x="535.7" y="2">PbrMADS77</text><text class="m" x="576.5" y="2">1</text><text x="590" y="2">236</text>
<path class="in" d="M609.5 0H618.3"/><rect class="ex" x="607.3" y="-2.2" width="2.3" height="4.4"/><path class="tk" d="M618.3-2.2v4.4"/></g>
<g id="PbrMADS78" transform="translate(0,349.72)"><text x="535.7" y="2">PbrMADS78</text><text class="m" x="576.5" y="2">0</text><text x="590" y="2">1319</text><rect class="ex" x="607.3" y="-2.2" width="18.29" height="4.4"/></g>
<g id="PbrMADS79" transform="translate(0,360.08)"><text x="535.7" y="2">PbrMADS79</text><text class="m" x="576.5" y="2">0</text><text x="590" y="2">641</text><rect class="ex" x="607.3" y="-2.2" width="8.89" height="4.4"/></g>
<g id="PbrMADS80" transform="translate(0,370.44)"><text x="535.7" y="2">PbrMADS80</text><text class="m" x="576.5" y="2">0</text><text x="590" y="2">773</text><rect class="ex" x="607.3" y="-2.2" width="10.72" height="4.4"/></g>
<g id="PbrMADS81" transform="translate(0,380.8)"><text x="535.7" y="2">PbrMADS81</text><text class="m" x="576.5" y="2">0</text><text x="590" y="2">326</text><rect class="ex" x="607.3" y="-2.2" width="4.52" height="4.4"/></g>
<g id="PbrMADS82" transform="translate(0,391.16)"><text x="535.7" y="2">PbrMADS82</text><text class="m" x="576.5" y="2">0</text><text x="590" y="2">326</text><rect class="ex" x="607.3" y="-2.2" width="4.52" height="4.4"/></g>
<g id="PbrMADS83" transform="translate(0,401.52)"><text x="535.7" y="2">PbrMADS83</text><text class="m" x="576.5" y="2">0</text><text x="590" y="2">326</text><rect class="ex" x="607.3" y="-2.2" width="4.52" height="4.4"/></g>
<g id="PbrMADS84" transform="translate(0,411.88)"><text x="535.7" y="2">PbrMADS84</text><text class="m" x="576.5" y="2">0</text><text x="590" y="2">473</text><rect class="ex" x="607.3" y="-2.2" width="6.56" height="4.4"/></g>
<g id="PbrMADS85" transform="translate(0,422.24)"><text x="535.7" y="2">PbrMADS85</text><text class="m" x="576.5" y="2">0</text><text x="590" y="2">671</text><rect class="ex" x="607.3" y="-2.2" width="9.31" height="4.4"/></g>
<g id="PbrMADS86" transform="translate(0,432.6)"><text x="535.7" y="2">PbrMADS86</text><text class="m" x="576.5" y="2">0</text><text x="590" y="2">629</text><rect class="ex" x="607.3" y="-2.2" width="8.72" height="4.4"/></g>
<g id="PbrMADS87" transform="translate(0,442.96)"><text x="535.7" y="2">PbrMADS87</text><text class="m" x="576.5" y="2">0</text><text x="590" y="2">767</text><rect class="ex" x="607.3" y="-2.2" width="10.64" height="4.4"/></g>
<g id="PbrMADS88" transform="translate(0,453.32)"><text x="535.7" y="2">PbrMADS88</text><text class="m" x="576.5" y="2">0</text><text x="590" y="2">317</text><rect class="ex" x="607.3" y="-2.2" width="4.4" height="4.4"/></g>
<g id="PbrMADS89" transform="translate(0,463.68)"><text x="535.7" y="2">PbrMADS89</text><text class="m" x="576.5" y="2">0</text><text x="590" y="2">677</text><rect class="ex" x="607.3" y="-2.2" width="9.39" height="4.4"/></g>
<g id="PbrMADS90" transform="translate(0,474.04)"><text x="535.7" y="2">PbrMADS90</text><text class="m" x="576.5" y="2">0</text><text x="590" y="2">677</text><rect class="ex" x="607.3" y="-2.2" width="9.39" height="4.4"/></g>
<g id="PbrMADS91" transform="translate(0,484.4)"><text x="535.7" y="2">PbrMADS91</text><text class="m" x="576.5" y="2">0</text><text x="590" y="2">503</text><rect class="ex" x="607.3" y="-2.2" width="6.98" height="4.4"/></g>
<g id="PbrMADS92" transform="translate(0,494.76)"><text x="535.7" y="2">PbrMADS92</text><text class="m" x="576.5" y="2">0</text><text x="590" y="2">560</text><rect class="ex" x="607.3" y="-2.2" width="7.77" height="4.4"/></g>
<g id="PbrMADS93" transform="translate(0,505.12)"><text x="535.7" y="2">PbrMADS93</text><text class="m" x="576.5" y="2">0</text><text x="590" y="2">560</text><rect class="ex" x="607.3" y="-2.2" width="7.77" height="4.4"/></g>
<g id="PbrMADS94" transform="translate(0,515.48)"><text x="535.7" y="2">PbrMADS94</text><text class="m" x="576.5" y="2">0</text><text x="590" y="2">641</text><rect class="ex" x="607.3" y="-2.2" width="8.89" height="4.4"/></g>
<g id="PbrMADS95" transform="translate(0,525.84)"><text x="535.7" y="2">PbrMADS95</text><text class="m" x="576.5" y="2">0</text><text x="590" y="2">641</text><rect class="ex" x="607.3" y="-2.2" width="8.89" height="4.4"/></g>
</g>

<g id="axis-left">
<path class="al" d="M95 538.7V540.7H526M98.3 540.7v-2M112.03 540.7v-2M125.76 540.7v-2M139.49 540.7v-2M153.22 540.7v-2M166.95 540.7v-2M180.68 540.7v-2M194.41 540.7v-2M208.14 540.7v-2M221.87 540.7v-2M235.6 540.7v-2M249.33 540.7v-2M263.06 540.7v-2M276.79 540.7v-2M290.52 540.7v-2M304.25 540.7v-2M317.98 540.7v-2M331.71 540.7v-2M345.44 540.7v-2M359.17 540.7v-2M372.9 540.7v-2M386.63 540.7v-2M400.36 540.7v-2M414.09 540.7v-2M427.82 540.7v-2M441.55 540.7v-2M455.28 540.7v-2M469.01 540.7v-2M482.74 540.7v-2M496.47 540.7v-2M510.2 540.7v-2M523.93 540.7v-2"/>
<text class="ax" x="93" y="537">5'</text><text class="ax" x="528" y="537">3'</text>
<text class="ax" x="98.3" y="546.5">0kb</text><text class="ax" x="112.03" y="546.5">1kb</text><text class="ax" x="125.76" y="546.5">2kb</text><text class="ax" x="139.49" y="546.5">3kb</text><text class="ax" x="153.22" y="546.5">4kb</text><text class="ax" x="166.95" y="546.5">5kb</text><text class="ax" x="180.68" y="546.5">6kb</text><text class="ax" x="194.41" y="546.5">7kb</text><text class="ax" x="208.14" y="546.5">8kb</text><text class="ax" x="221.87" y="546.5">9kb</text><text class="ax" x="235.6" y="546.5">10kb</text><text class="ax" x="249.33" y="546.5">11kb</text><text class="ax" x="263.06" y="546.5">12kb</text><text class="ax" x="276.79" y="546.5">13kb</text><text class="ax" x="290.52" y="546.5">14kb</text><text class="ax" x="304.25" y="546.5">15kb</text><text class="ax" x="317.98" y="546.5">16kb</text><text class="ax" x="331.71" y="546.5">17kb</text><text class="ax" x="345.44" y="546.5">18kb</text><text class="ax" x="359.17" y="546.5">19kb</text><text class="ax" x="372.9" y="546.5">20kb</text><text class="ax" x="386.63" y="546.5">21kb</text><text class="ax" x="400.36" y="546.5">22kb</text><text class="ax" x="414.09" y="546.5">23kb</text><text class="ax" x="427.82" y="546.5">24kb</text><text class="ax" x="441.55" y="546.5">25kb</text><text class="ax" x="455.28" y="546.5">26kb</text><text class="ax" x="469.01" y="546.5">27kb</text><text class="ax" x="482.74" y="546.5">28kb</text><text class="ax" x="496.47" y="546.5">29kb</text><text class="ax" x="510.2" y="546.5">30kb</text><text class="ax" x="523.93" y="546.5">31kb</text>
</g>

<g id="axis-right">
<path class="al" d="M604 536.3V538.3H727M608.3 538.3v-2M622.17 538.3v-2M636.04 538.3v-2M649.91 538.3v-2M663.78 538.3v-2M677.65 538.3v-2M691.52 538.3v-2M705.39 538.3v-2M719.26 538.3v-2"/>
<text class="ax" x="602.5" y="535">5'</text><text class="ax" x="728.5" y="535">3'</text>
<text class="ax" x="608.3" y="544">0kb</text><text class="ax" x="622.17" y="544">1kb</text><text class="ax" x="636.04" y="544">2kb</text><text class="ax" x="649.91" y="544">3kb</text><text class="ax" x="663.78" y="544">4kb</text><text class="ax" x="677.65" y="544">5kb</text><text class="ax" x="691.52" y="544">6kb</text><text class="ax" x="705.39" y="544">7kb</text><text class="ax" x="719.26" y="544">8kb</text>
</g>
</svg>
